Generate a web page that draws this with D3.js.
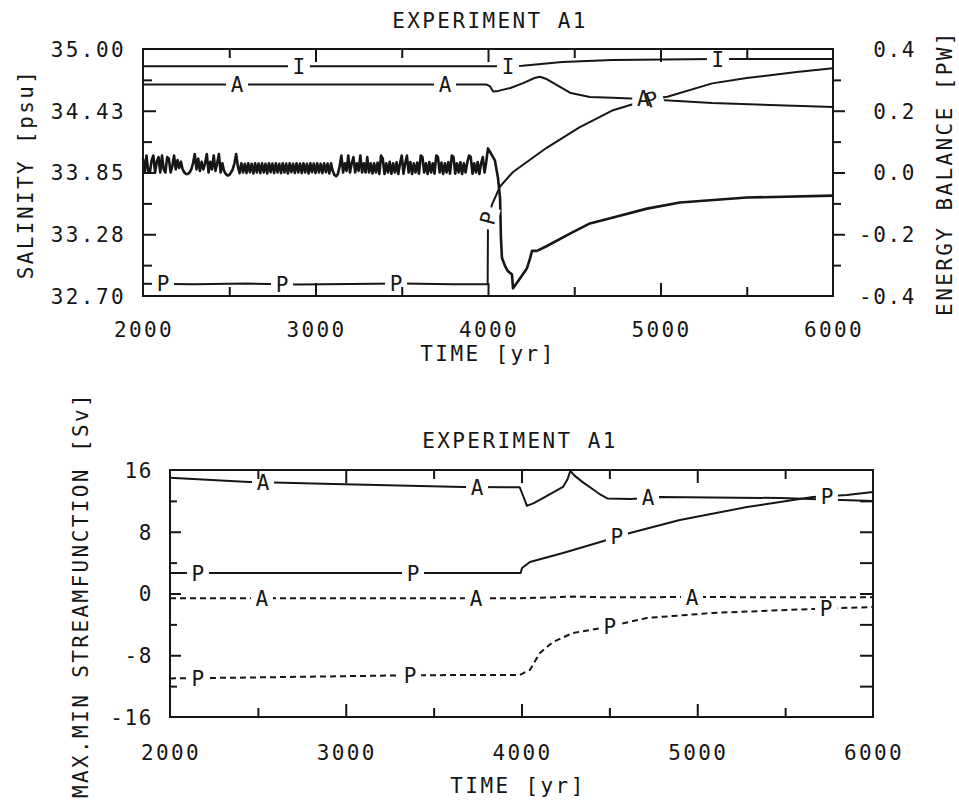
<!DOCTYPE html>
<html>
<head>
<meta charset="utf-8">
<script src="https://cdn.jsdelivr.net/npm/d3@7"></script>
<style>
  body { margin: 0; background: #fff; }
  text { font-family: "DejaVu Sans Mono", monospace; font-size: 21px; letter-spacing: 2.4px; fill: #161616; }
  .lbl { letter-spacing: 0; }
</style>
</head>
<body>
<div id="chart"></div>
<script>
// ---- data ----
var years = [2000, 3000, 4000, 5000, 6000];

// top panel, salinity [psu]
var salTickValues = [32.70, 33.275, 33.85, 34.425, 35.00];
var salTickLabels = ["32.70", "33.28", "33.85", "34.43", "35.00"];
var ebTickValues = [-0.4, -0.2, 0.0, 0.2, 0.4];

var salI = [[2000, 34.84], [4100, 34.84], [4200, 34.845], [4430, 34.88], [4720, 34.897],
            [5300, 34.906], [6000, 34.908]];
var salA = [[2000, 34.67], [3990, 34.67], [4010, 34.655], [4030, 34.605], [4060, 34.61],
            [4130, 34.637], [4200, 34.68], [4270, 34.73], [4300, 34.742], [4340, 34.72],
            [4420, 34.646], [4480, 34.59], [4590, 34.553], [4720, 34.545], [4900, 34.535],
            [5000, 34.525], [5300, 34.497], [6000, 34.46]];
var salP = [[2000, 32.815], [2300, 32.81], [2600, 32.816], [2900, 32.806], [3200, 32.812],
            [3500, 32.816], [3800, 32.81], [3998, 32.81], [4000, 33.42], [4023, 33.55],
            [4045, 33.63], [4070, 33.72], [4145, 33.855], [4340, 34.08], [4530, 34.27],
            [4725, 34.43], [4920, 34.525], [5040, 34.555], [5300, 34.68], [5500, 34.73],
            [5790, 34.785], [6000, 34.82]];

// energy balance [PW], every 10 yr from 2000 to 3990
var ebStart = 2000, ebStep = 10;
var ebNoise = [
  0.045, 0.000, 0.055, 0.005, 0.000, 0.040, 0.055, 0.000, 0.035, 0.050,
  0.000, 0.055, 0.010, 0.000, 0.050, 0.045, 0.000, 0.020, 0.055, 0.010,
  0.040, 0.015, 0.035, 0.010, 0.000, -0.005, -0.005, 0.000, 0.010, 0.030,
  0.060, 0.010, 0.045, 0.005, 0.035, 0.010, 0.030, 0.060, 0.000, 0.035,
  0.010, 0.055, 0.005, 0.030, 0.060, 0.000, 0.030, 0.005, -0.005, -0.010,
  -0.008, 0.000, 0.010, 0.030, 0.060, 0.020, -0.002, 0.030, 0.000, 0.028,
  -0.002, 0.030, 0.001, 0.028, -0.003, 0.030, 0.000, 0.029, -0.002, 0.030,
  0.000, 0.028, -0.003, 0.030, 0.001, 0.029, -0.002, 0.030, 0.000, 0.028,
  -0.002, 0.030, 0.000, 0.029, -0.003, 0.030, 0.001, 0.028, -0.002, 0.030,
  0.000, 0.029, -0.002, 0.030, 0.000, 0.028, -0.003, 0.030, 0.001, 0.029,
  -0.002, 0.030, 0.000, 0.028, -0.002, 0.030, 0.001, 0.029, -0.003, 0.030,
  0.005, -0.008, -0.012, -0.005, 0.020, 0.055, 0.000, 0.030, 0.005, 0.055,
  0.000, 0.030, 0.050, 0.000, 0.030, 0.005, 0.055, 0.000, 0.030, 0.000,
  0.050, 0.000, 0.030, -0.003, 0.030, 0.000, 0.032, -0.005, 0.055, 0.045,
  -0.005, 0.030, 0.000, 0.035, -0.004, 0.030, 0.000, 0.033, -0.005, 0.030,
  0.055, -0.004, 0.030, 0.055, 0.000, 0.034, -0.005, 0.030, 0.000, 0.032,
  -0.004, 0.055, 0.050, 0.000, 0.030, -0.005, 0.034, 0.000, 0.030, -0.004,
  0.055, 0.050, 0.000, 0.032, -0.005, 0.030, 0.000, 0.034, -0.004, 0.055,
  0.050, -0.004, 0.030, 0.000, 0.033, -0.005, 0.030, 0.000, 0.032, 0.055,
  0.050, -0.004, 0.030, 0.000, 0.034, -0.005, 0.030, 0.050, 0.000, 0.035
];
var ebAfter = [[4000, 0.078], [4040, 0.039], [4058, -0.018], [4070, -0.083], [4075, -0.212],
               [4081, -0.277], [4099, -0.303], [4116, -0.32], [4139, -0.33], [4145, -0.375],
               [4174, -0.352], [4226, -0.31], [4243, -0.28], [4255, -0.254], [4284, -0.254],
               [4342, -0.238], [4475, -0.198], [4591, -0.165], [4725, -0.146], [4922, -0.117],
               [5113, -0.097], [5501, -0.081], [6000, -0.075]];

// bottom panel, max/min streamfunction [Sv]
var sfTickValues = [-16, -8, 0, 8, 16];
var maxA = [[2000, 15.0], [2450, 14.45], [2930, 14.2], [3670, 13.8], [3990, 13.75], [4010, 12.6],
            [4031, 11.35], [4070, 11.7], [4150, 12.7], [4236, 13.8], [4262, 14.8], [4278, 15.9],
            [4300, 15.3], [4350, 14.4], [4400, 13.6], [4450, 12.8], [4490, 12.3], [4620, 12.25],
            [4790, 12.5], [5470, 12.37], [6000, 11.98]];
var maxP = [[2000, 2.66], [3995, 2.66], [4003, 3.31], [4048, 4.08], [4236, 5.25], [4429, 6.54],
            [4617, 7.84], [4901, 9.52], [5283, 11.2], [5658, 12.5], [5852, 12.76], [6000, 13.15]];
var minA = [[2000, -0.6], [3000, -0.6], [3990, -0.6], [4100, -0.55], [4300, -0.4], [4500, -0.5],
            [5000, -0.45], [5500, -0.5], [6000, -0.5]];
var minP = [[2000, -11.0], [2400, -10.9], [3350, -10.6], [3760, -10.55], [3990, -10.55],
            [4048, -9.9], [4105, -7.7], [4179, -6.28], [4293, -5.11], [4486, -4.34],
            [4713, -3.17], [5090, -2.52], [5658, -2.0], [6000, -1.75]];

// inline curve labels: [year, rotation]
var labI = [[2904, 0], [4116, 0], [5333, 0]];
var labA = [[2545, 0], [3751, 0], [4900, 0]];
var labP = [[2116, 0], [2806, 0], [3467, 0], [4001, -75], [4950, -20]];
var labMaxA = [[2529, 0], [3747, 0], [4720, 0]];
var labMaxP = [[2159, 0], [3383, 0], [4543, 0], [5738, 0]];
var labMinA = [[2523, 0], [3741, 0], [4970, 0]];
var labMinP = [[2159, 0], [3366, 0], [4503, 0], [5733, 0]];

// ---- layout ----
var svg = d3.select("#chart").append("svg")
    .attr("width", 959)
    .attr("height", 801);

var ink = "#161616";

function frame(b){
  svg.append("rect")
    .attr("x", b.left).attr("y", b.top)
    .attr("width", b.right - b.left).attr("height", b.bottom - b.top)
    .attr("fill", "none").attr("stroke", ink).attr("stroke-width", 2);
}

function mids(v){ return d3.pairs(v).map(function(p){ return (p[0] + p[1]) / 2; }); }

// tick marks only (labels drawn separately)
function ticks(g, axis){
  g.call(axis);
  g.select(".domain").remove();
  g.selectAll("line").attr("stroke", ink).attr("stroke-width", 2);
  g.selectAll("text").remove();
}

function interp(series, yr){
  var i = d3.bisector(function(d){ return d[0]; }).right(series, yr);
  i = Math.max(1, Math.min(series.length - 1, i));
  var a = series[i - 1], b = series[i];
  var t = (yr - a[0]) / (b[0] - a[0]);
  return a[1] + t * (b[1] - a[1]);
}

function curve(g, series, x, y, dashed, w){
  g.append("path")
    .datum(series)
    .attr("fill", "none")
    .attr("stroke", ink)
    .attr("stroke-width", w || 2)
    .attr("stroke-linejoin", "round")
    .attr("stroke-dasharray", dashed ? "6,4" : null)
    .attr("d", d3.line().x(function(d){ return x(d[0]); }).y(function(d){ return y(d[1]); }));
}

// white gaps go in gGap, letters in gTxt, so overlapping labels stay readable
function labels(gGap, gTxt, series, x, y, labs, letter){
  function pos(d){
    return "translate(" + x(d[0]) + "," + y(interp(series, d[0])) + ") rotate(" + d[1] + ")";
  }
  gGap.selectAll(null)
    .data(labs)
    .enter().append("rect")
      .attr("transform", pos)
      .attr("x", -11).attr("y", -10).attr("width", 22).attr("height", 20)
      .attr("fill", "#fff");
  gTxt.selectAll(null)
    .data(labs)
    .enter().append("text")
      .attr("class", "lbl")
      .attr("transform", pos)
      .attr("text-anchor", "middle")
      .attr("dy", "0.36em")
      .text(letter);
}

function xLabels(x, baseline){
  svg.append("g").selectAll("text")
    .data(years)
    .enter().append("text")
      .attr("x", function(d){ return x(d) + 1; })
      .attr("y", baseline)
      .attr("text-anchor", "middle")
      .text(function(d){ return d; });
}

function xTicks(x, b){
  var major = years.slice(1, -1), minor = mids(years);
  ticks(svg.append("g").attr("transform", "translate(0," + b.bottom + ")"),
        d3.axisBottom(x).tickValues(major).tickSize(-13));
  ticks(svg.append("g").attr("transform", "translate(0," + b.bottom + ")"),
        d3.axisBottom(x).tickValues(minor).tickSize(-9));
  ticks(svg.append("g").attr("transform", "translate(0," + b.top + ")"),
        d3.axisTop(x).tickValues(major).tickSize(-13));
  ticks(svg.append("g").attr("transform", "translate(0," + b.top + ")"),
        d3.axisTop(x).tickValues(minor).tickSize(-9));
}

function title(str, cx, baseline){
  svg.append("text").attr("x", cx).attr("y", baseline)
    .attr("text-anchor", "middle").text(str);
}

function vTitle(str, bx, cy){
  svg.append("text")
    .attr("transform", "translate(" + bx + "," + cy + ") rotate(-90)")
    .attr("text-anchor", "middle").text(str);
}

// ---- top panel ----
var bTop = { left:143, right:833, top:49, bottom:296 };
var xTop = d3.scaleLinear().domain([2000, 6000]).range([bTop.left, bTop.right]);
var ySal = d3.scaleLinear().domain([32.70, 35.00]).range([bTop.bottom, bTop.top]);
var yEb = d3.scaleLinear().domain([-0.4, 0.4]).range([bTop.bottom, bTop.top]);

var ebSeries = ebNoise.map(function(v, i){ return [ebStart + i * ebStep, v]; }).concat(ebAfter);

var gTop = svg.append("g");
curve(gTop, ebSeries, xTop, yEb, false, 2.6);
curve(gTop, salI, xTop, ySal, false);
curve(gTop, salA, xTop, ySal, false);
curve(gTop, salP, xTop, ySal, false);
var gTopGap = svg.append("g"), gTopTxt = svg.append("g");
labels(gTopGap, gTopTxt, salI, xTop, ySal, labI, "I");
labels(gTopGap, gTopTxt, salA, xTop, ySal, labA, "A");
labels(gTopGap, gTopTxt, salP, xTop, ySal, labP, "P");

frame(bTop);
xTicks(xTop, bTop);

// left axis: ticks inward
ticks(svg.append("g").attr("transform", "translate(" + bTop.left + ",0)"),
      d3.axisLeft(ySal).tickValues(salTickValues.slice(1, -1)).tickSize(-13));
ticks(svg.append("g").attr("transform", "translate(" + bTop.left + ",0)"),
      d3.axisLeft(ySal).tickValues(mids(salTickValues)).tickSize(-9));
svg.append("g").selectAll("text")
  .data(salTickValues)
  .enter().append("text")
    .attr("x", 126)
    .attr("y", function(d){ return ySal(d); })
    .attr("dy", "0.38em")
    .attr("text-anchor", "end")
    .text(function(d, i){ return salTickLabels[i]; });

// right axis: ticks outward
ticks(svg.append("g").attr("transform", "translate(" + bTop.right + ",0)"),
      d3.axisRight(yEb).tickValues(ebTickValues.slice(1, -1)).tickSize(12));
ticks(svg.append("g").attr("transform", "translate(" + bTop.right + ",0)"),
      d3.axisRight(yEb).tickValues(mids(ebTickValues)).tickSize(8));
svg.append("g").selectAll("text")
  .data(ebTickValues)
  .enter().append("text")
    .attr("x", 916)
    .attr("y", function(d){ return yEb(d); })
    .attr("dy", "0.38em")
    .attr("text-anchor", "end")
    .style("letter-spacing", "1.6px")
    .text(function(d){ return d.toFixed(1); });

xLabels(xTop, 337);
title("EXPERIMENT A1", 490, 28);
title("TIME [yr]", 488, 361);
vTitle("SALINITY [psu]", 33, 174);
vTitle("ENERGY BALANCE [PW]", 952, 173);

// ---- bottom panel ----
var bBot = { left:170, right:873, top:470, bottom:717 };
var xBot = d3.scaleLinear().domain([2000, 6000]).range([bBot.left, bBot.right]);
var ySf = d3.scaleLinear().domain([-16, 16]).range([bBot.bottom, bBot.top]);

var gBot = svg.append("g");
curve(gBot, maxA, xBot, ySf, false);
curve(gBot, maxP, xBot, ySf, false);
curve(gBot, minA, xBot, ySf, true);
curve(gBot, minP, xBot, ySf, true);
var gBotGap = svg.append("g"), gBotTxt = svg.append("g");
labels(gBotGap, gBotTxt, maxA, xBot, ySf, labMaxA, "A");
labels(gBotGap, gBotTxt, maxP, xBot, ySf, labMaxP, "P");
labels(gBotGap, gBotTxt, minA, xBot, ySf, labMinA, "A");
labels(gBotGap, gBotTxt, minP, xBot, ySf, labMinP, "P");

frame(bBot);
xTicks(xBot, bBot);

ticks(svg.append("g").attr("transform", "translate(" + bBot.left + ",0)"),
      d3.axisLeft(ySf).tickValues(sfTickValues.slice(1, -1)).tickSize(-11));
ticks(svg.append("g").attr("transform", "translate(" + bBot.left + ",0)"),
      d3.axisLeft(ySf).tickValues(mids(sfTickValues)).tickSize(-7));
ticks(svg.append("g").attr("transform", "translate(" + bBot.right + ",0)"),
      d3.axisRight(ySf).tickValues(sfTickValues.slice(1, -1).concat(mids(sfTickValues))).tickSize(-13));
svg.append("g").selectAll("text")
  .data(sfTickValues)
  .enter().append("text")
    .attr("x", 153)
    .attr("y", function(d){ return ySf(d); })
    .attr("dy", "0.38em")
    .attr("text-anchor", "end")
    .style("letter-spacing", "1.6px")
    .text(function(d){ return d; });

xLabels(xBot, 760);
title("EXPERIMENT A1", 520, 448);
title("TIME [yr]", 518, 793);
vTitle("MAX.MIN STREAMFUNCTION [Sv]", 88, 595);
</script>
</body>
</html>
